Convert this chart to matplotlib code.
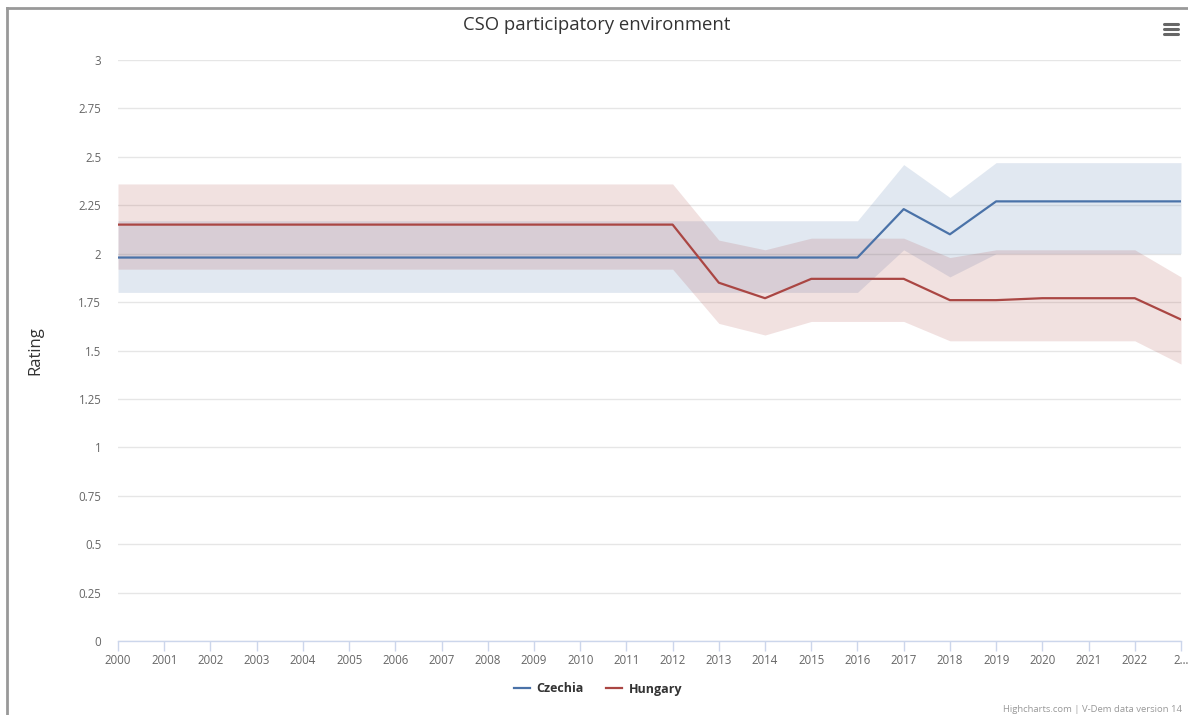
import matplotlib
matplotlib.use("Agg")
import matplotlib.pyplot as plt
from matplotlib.lines import Line2D

plt.rcParams['font.family'] = ['Open Sans', 'DejaVu Sans']

years = list(range(2000, 2024))

czechia = [1.98, 1.98, 1.98, 1.98, 1.98, 1.98, 1.98, 1.98, 1.98, 1.98, 1.98, 1.98,
           1.98, 1.98, 1.98, 1.98, 1.98, 2.23, 2.10, 2.27, 2.27, 2.27, 2.27, 2.27]
czechia_low = [1.80, 1.80, 1.80, 1.80, 1.80, 1.80, 1.80, 1.80, 1.80, 1.80, 1.80, 1.80,
               1.80, 1.80, 1.80, 1.80, 1.80, 2.02, 1.88, 2.00, 2.00, 2.00, 2.00, 2.00]
czechia_high = [2.17, 2.17, 2.17, 2.17, 2.17, 2.17, 2.17, 2.17, 2.17, 2.17, 2.17, 2.17,
                2.17, 2.17, 2.17, 2.17, 2.17, 2.46, 2.29, 2.47, 2.47, 2.47, 2.47, 2.47]

hungary = [2.15, 2.15, 2.15, 2.15, 2.15, 2.15, 2.15, 2.15, 2.15, 2.15, 2.15, 2.15,
           2.15, 1.85, 1.77, 1.87, 1.87, 1.87, 1.76, 1.76, 1.77, 1.77, 1.77, 1.66]
hungary_low = [1.92, 1.92, 1.92, 1.92, 1.92, 1.92, 1.92, 1.92, 1.92, 1.92, 1.92, 1.92,
               1.92, 1.64, 1.58, 1.65, 1.65, 1.65, 1.55, 1.55, 1.55, 1.55, 1.55, 1.43]
hungary_high = [2.36, 2.36, 2.36, 2.36, 2.36, 2.36, 2.36, 2.36, 2.36, 2.36, 2.36, 2.36,
                2.36, 2.07, 2.02, 2.08, 2.08, 2.08, 1.98, 2.02, 2.02, 2.02, 2.02, 1.88]

y_ticks = [0, 0.25, 0.5, 0.75, 1, 1.25, 1.5, 1.75, 2, 2.25, 2.5, 2.75, 3]
x_labels = [str(y) for y in years[:-1]] + ["2…"]

blue = "#4a72a8"
red = "#aa4643"

fig = plt.figure(figsize=(11.88, 7.15), dpi=100)
ax = fig.add_axes([118 / 1188, 74 / 715, 1063 / 1188, 581 / 715])

ax.fill_between(years, czechia_low, czechia_high, color=blue, alpha=0.16, lw=0, zorder=2)
ax.fill_between(years, hungary_low, hungary_high, color=red, alpha=0.16, lw=0, zorder=2)
ax.plot(years, czechia, color=blue, lw=1.6, zorder=4)
ax.plot(years, hungary, color=red, lw=1.6, zorder=4)

ax.set_xlim(2000, 2023)
ax.set_ylim(0, 3)
ax.set_yticks(y_ticks)
ax.set_yticklabels([f"{v:g}" for v in y_ticks])
ax.set_xticks(years)
ax.set_xticklabels(x_labels)
ax.grid(axis='y', color="#e6e6e6", lw=1, zorder=1)
ax.set_axisbelow(True)

for s in ['top', 'right', 'left']:
    ax.spines[s].set_visible(False)
ax.spines['bottom'].set_color("#ccd6eb")
ax.spines['bottom'].set_linewidth(1)
ax.tick_params(axis='y', length=0, pad=12, labelsize=8.3, labelcolor="#666666")
ax.tick_params(axis='x', length=7, width=1, color="#ccd6eb", pad=2,
               labelsize=8.3, labelcolor="#666666")

ax.set_ylabel("Rating", fontsize=12, color="#333333", labelpad=25)
fig.text(0.5025, 1 - 25 / 715, "CSO participatory environment", ha='center', va='center',
         fontsize=13.3, color="#333333")

handles = [Line2D([0], [0], color=blue, lw=1.6), Line2D([0], [0], color=red, lw=1.6)]
fig.legend(handles, ["Czechia", "Hungary"], loc='center', ncol=2,
           bbox_to_anchor=(598 / 1188, 1 - 689 / 715), frameon=False, handlelength=1.3,
           handletextpad=0.5, columnspacing=1.8,
           prop={'size': 9, 'weight': 'bold'}, labelcolor="#333333")

fig.text(1182 / 1188, 1 - 710 / 715, "Highcharts.com | V-Dem data version 14", ha='right',
         va='center', fontsize=6.8, color="#999999")

# menu icon
for yy in [24, 29, 34]:
    fig.add_artist(Line2D([1164 / 1188, 1178 / 1188], [1 - yy / 715, 1 - yy / 715],
                          color="#666666", lw=2.2, solid_capstyle='round'))

# outer frame
fig.add_artist(Line2D([7 / 1188, 7 / 1188], [0, 1 - 8 / 715], color="#999999", lw=2))
fig.add_artist(Line2D([7 / 1188, 1], [1 - 8 / 715, 1 - 8 / 715], color="#999999", lw=2))

fig.savefig("out.png", dpi=100)
